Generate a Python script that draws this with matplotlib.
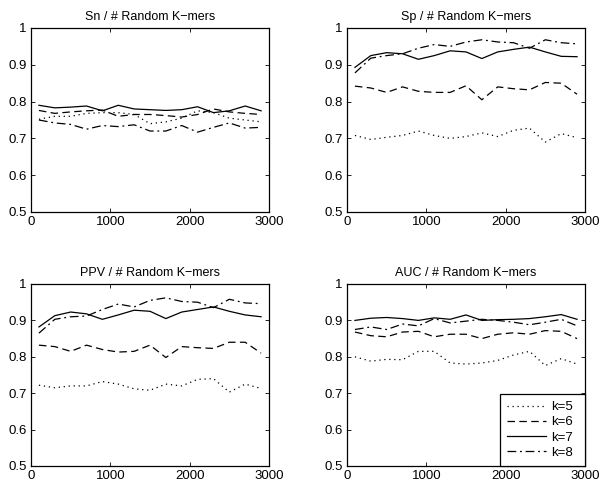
import matplotlib
matplotlib.use("Agg")
import matplotlib.pyplot as plt
import numpy as np

plt.rcParams['font.family'] = ['Liberation Sans', 'DejaVu Sans']
plt.rcParams['font.size'] = 9.5

# number of random k-mers
n_kmers = [100, 300, 500, 700, 900, 1100, 1300, 1500, 1700, 1900, 2100, 2300, 2500, 2700, 2900]
labels = ['k=5', 'k=6', 'k=7', 'k=8']

sn_k5 = [0.752, 0.760, 0.760, 0.768, 0.770, 0.770, 0.765, 0.740, 0.745, 0.755, 0.775, 0.770, 0.755, 0.750, 0.745]
sn_k6 = [0.776, 0.768, 0.772, 0.775, 0.777, 0.760, 0.765, 0.765, 0.762, 0.758, 0.765, 0.780, 0.772, 0.768, 0.765]
sn_k7 = [0.790, 0.783, 0.785, 0.788, 0.775, 0.790, 0.780, 0.778, 0.776, 0.778, 0.786, 0.770, 0.775, 0.788, 0.775]
sn_k8 = [0.750, 0.742, 0.738, 0.725, 0.735, 0.732, 0.737, 0.720, 0.720, 0.735, 0.717, 0.730, 0.742, 0.728, 0.730]

sp_k5 = [0.708, 0.697, 0.703, 0.708, 0.720, 0.708, 0.700, 0.705, 0.715, 0.705, 0.722, 0.728, 0.690, 0.713, 0.702]
sp_k6 = [0.842, 0.837, 0.825, 0.840, 0.828, 0.825, 0.825, 0.843, 0.805, 0.840, 0.835, 0.832, 0.852, 0.850, 0.820]
sp_k7 = [0.893, 0.925, 0.933, 0.930, 0.915, 0.925, 0.938, 0.935, 0.917, 0.935, 0.942, 0.948, 0.935, 0.923, 0.922]
sp_k8 = [0.878, 0.918, 0.925, 0.930, 0.945, 0.955, 0.950, 0.962, 0.968, 0.962, 0.960, 0.945, 0.968, 0.960, 0.957]

ppv_k5 = [0.722, 0.715, 0.720, 0.720, 0.732, 0.725, 0.712, 0.708, 0.725, 0.720, 0.738, 0.740, 0.703, 0.725, 0.713]
ppv_k6 = [0.832, 0.828, 0.815, 0.832, 0.820, 0.813, 0.815, 0.832, 0.798, 0.828, 0.825, 0.823, 0.840, 0.840, 0.810]
ppv_k7 = [0.882, 0.913, 0.923, 0.918, 0.903, 0.915, 0.928, 0.925, 0.905, 0.923, 0.930, 0.937, 0.925, 0.915, 0.910]
ppv_k8 = [0.865, 0.903, 0.910, 0.912, 0.930, 0.945, 0.937, 0.955, 0.962, 0.952, 0.950, 0.935, 0.958, 0.948, 0.946]

auc_k5 = [0.800, 0.788, 0.793, 0.792, 0.815, 0.815, 0.783, 0.780, 0.783, 0.790, 0.805, 0.815, 0.776, 0.795, 0.780]
auc_k6 = [0.868, 0.858, 0.855, 0.868, 0.870, 0.855, 0.862, 0.862, 0.850, 0.862, 0.866, 0.862, 0.872, 0.870, 0.850]
auc_k7 = [0.900, 0.906, 0.908, 0.905, 0.900, 0.907, 0.903, 0.915, 0.900, 0.902, 0.903, 0.905, 0.910, 0.916, 0.903]
auc_k8 = [0.875, 0.882, 0.875, 0.890, 0.885, 0.905, 0.893, 0.898, 0.903, 0.900, 0.895, 0.888, 0.895, 0.903, 0.885]

panels = [
    ('Sn / # Random K\u2212mers', [sn_k5, sn_k6, sn_k7, sn_k8]),
    ('Sp / # Random K\u2212mers', [sp_k5, sp_k6, sp_k7, sp_k8]),
    ('PPV / # Random K\u2212mers', [ppv_k5, ppv_k6, ppv_k7, ppv_k8]),
    ('AUC / # Random K\u2212mers', [auc_k5, auc_k6, auc_k7, auc_k8]),
]

styles = [(0, (1, 3)), (0, (6, 3.5)), '-', (0, (7, 3, 1.5, 3))]

W, H = 609, 484
fig = plt.figure(figsize=(W / 100, H / 100), dpi=100)
boxes = [(31, 28, 269, 212), (347, 28, 585, 212), (31, 284, 269, 466), (347, 284, 585, 466)]

for (title, series), (x0, y0, x1, y1) in zip(panels, boxes):
    ax = fig.add_axes([x0 / W, 1 - y1 / H, (x1 - x0) / W, (y1 - y0) / H])
    lines = []
    for vals, ls in zip(series, styles):
        l, = ax.plot(n_kmers, vals, color='black', linestyle=ls, linewidth=0.9)
        lines.append(l)
    ax.set_xlim(0, 3000)
    ax.set_ylim(0.5, 1)
    ax.set_xticks([0, 1000, 2000, 3000])
    ax.set_yticks([0.5, 0.6, 0.7, 0.8, 0.9, 1])
    ax.set_yticklabels(['0.5', '0.6', '0.7', '0.8', '0.9', '1'])
    ax.tick_params(direction='in', top=True, right=True, length=3, width=0.6, pad=3)
    for s in ax.spines.values():
        s.set_linewidth(0.9)
    ax.set_title(title, fontsize=9, pad=6)

leg = ax.legend(lines, labels, loc='lower right', bbox_to_anchor=(0.643, 0, 0.357, 0.4),
                mode='expand', borderaxespad=0, fancybox=False, edgecolor='black',
                framealpha=1, handlelength=2.9, handletextpad=0.45, fontsize=9.5,
                labelspacing=0.22, borderpad=0.55)
leg.get_frame().set_linewidth(0.9)

fig.savefig('out.png', dpi=100)
